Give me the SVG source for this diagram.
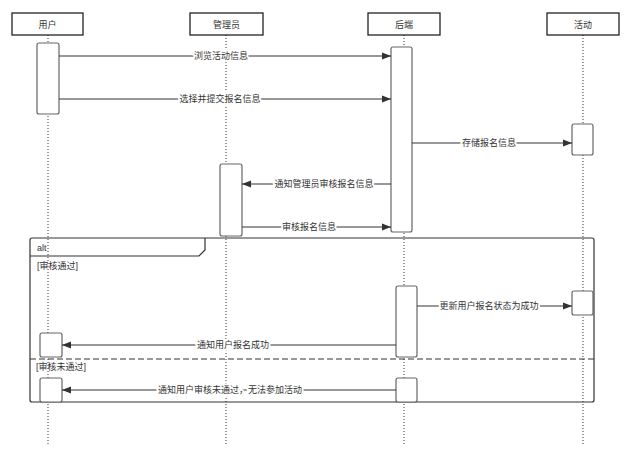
<svg xmlns="http://www.w3.org/2000/svg" width="639" height="462" viewBox="0 0 639 462">
<style>
text{font-family:"Liberation Sans","Noto Sans CJK SC",sans-serif;font-size:9px;fill:#333}
.hd{fill:#fff;stroke:#222;stroke-width:1.3}
.life{stroke:#333;stroke-width:1;stroke-dasharray:1 2;fill:none}
.act{fill:#fff;stroke:#666;stroke-width:1.2}
.msg{stroke:#333;stroke-width:1.2;fill:none}
.lbl{text-anchor:middle;paint-order:stroke;stroke:#fff;stroke-width:4px;stroke-linejoin:round}
.frame{fill:none;stroke:#333;stroke-width:1.2}
</style>
<defs>
<marker id="arr" markerWidth="10" markerHeight="8" refX="9" refY="4" orient="auto" markerUnits="userSpaceOnUse">
<path d="M0,0.5 L9,4 L0,7.5 Z" fill="#333"/>
</marker>
</defs>
<g id="lifelines">
<line class="life" x1="48" y1="35" x2="48" y2="446"/>
<line class="life" x1="226" y1="35" x2="226" y2="446"/>
<line class="life" x1="404" y1="35" x2="404" y2="446"/>
<line class="life" x1="583" y1="35" x2="583" y2="446"/>
</g>
<g id="actor-user"><rect class="hd" x="12" y="13" width="71" height="22"/><text x="47.5" y="27.5" text-anchor="middle">用户</text></g>
<g id="actor-admin"><rect class="hd" x="190" y="13" width="73" height="22"/><text x="226.5" y="27.5" text-anchor="middle">管理员</text></g>
<g id="actor-backend"><rect class="hd" x="368" y="13" width="72" height="22"/><text x="404" y="27.5" text-anchor="middle">后端</text></g>
<g id="actor-activity"><rect class="hd" x="547" y="13" width="72" height="22"/><text x="583" y="27.5" text-anchor="middle">活动</text></g>
<g id="alt-frame">
<rect class="frame" x="30" y="238" width="564" height="164" rx="2"/>
<path class="frame" d="M205,238 L205,250 L199,256 L30,256"/>
<text x="37" y="251">alt</text>
<text x="37" y="269">[审核通过]</text>
<line x1="30" y1="359" x2="594" y2="359" stroke="#333" stroke-width="1.2" stroke-dasharray="6 3"/>
<text x="36" y="370">[审核未通过]</text>
</g>
<g id="activations">
<rect id="act-user-1" class="act" x="37" y="43" width="22" height="71" rx="2"/>
<rect id="act-backend-1" class="act" x="391" y="47" width="21" height="185" rx="2"/>
<rect id="act-activity-1" class="act" x="572" y="124" width="21" height="31" rx="2"/>
<rect id="act-admin-1" class="act" x="220" y="164" width="22" height="72" rx="2"/>
<rect id="act-backend-2" class="act" x="396" y="286" width="21" height="71" rx="2"/>
<rect id="act-activity-2" class="act" x="572" y="291" width="21" height="24" rx="2"/>
<rect id="act-user-2" class="act" x="40" y="333" width="22" height="24" rx="2"/>
<rect id="act-user-3" class="act" x="40" y="378" width="22" height="24" rx="2"/>
<rect id="act-backend-3" class="act" x="396" y="378" width="21" height="24" rx="2"/>
</g>
<g id="connectors">
<line class="msg" x1="59" y1="56" x2="391" y2="56" marker-end="url(#arr)"/>
<line class="msg" x1="59" y1="99" x2="391" y2="99" marker-end="url(#arr)"/>
<line class="msg" x1="412" y1="143" x2="572" y2="143" marker-end="url(#arr)"/>
<line class="msg" x1="391" y1="184" x2="242" y2="184" marker-end="url(#arr)"/>
<line class="msg" x1="242" y1="227" x2="391" y2="227" marker-end="url(#arr)"/>
<line class="msg" x1="417" y1="306" x2="572" y2="306" marker-end="url(#arr)"/>
<line class="msg" x1="396" y1="345" x2="62" y2="345" marker-end="url(#arr)"/>
<line class="msg" x1="396" y1="390" x2="62" y2="390" marker-end="url(#arr)"/>
<text class="lbl" x="221" y="59">浏览活动信息</text>
<text class="lbl" x="220" y="102">选择并提交报名信息</text>
<text class="lbl" x="489" y="146">存储报名信息</text>
<text class="lbl" x="324" y="187">通知管理员审核报名信息</text>
<text class="lbl" x="309" y="230">审核报名信息</text>
<text class="lbl" x="489" y="309">更新用户报名状态为成功</text>
<text class="lbl" x="233" y="348">通知用户报名成功</text>
<text class="lbl" x="230" y="393">通知用户审核未通过，无法参加活动</text>
</g>
</svg>
